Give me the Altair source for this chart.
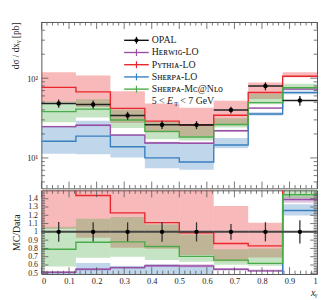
import altair as alt
import pandas as pd

# ---------------- data ----------------
bin_lo = [0.0, 0.125, 0.25, 0.375, 0.5, 0.625, 0.75, 0.875]
bin_hi = [0.125, 0.25, 0.375, 0.5, 0.625, 0.75, 0.875, 1.0]

opal = [48.2, 46.9, 34.0, 26.1, 26.0, 39.9, 79.7, 52.5]
opal_err = [5.7, 5.5, 3.9, 3.1, 3.0, 3.8, 9.2, 7.4]

herwig = [24.7, 25.7, 19.3, 15.4, 15.3, 21.9, 42.2, 73.0]
herwig_lo = [24.0, 25.0, 18.8, 15.0, 14.9, 21.3, 41.0, 71.0]
herwig_hi = [25.4, 26.4, 19.8, 15.9, 15.8, 22.5, 43.4, 75.0]

pythia = [76.8, 67.5, 41.8, 29.0, 25.7, 34.3, 66.2, 106.0]
pythia_lo = [50.0, 43.6, 27.5, 20.8, 18.7, 25.7, 55.0, 103.0]
pythia_hi = [118.6, 108.0, 68.5, 48.2, 42.6, 52.3, 88.5, 118.6]

sherpa = [16.2, 18.8, 13.8, 10.0, 8.9, 14.5, 35.6, 66.0]
sherpa_lo = [11.3, 11.1, 10.1, 7.4, 7.1, 13.2, 34.0, 62.8]
sherpa_hi = [24.8, 29.3, 20.0, 15.8, 15.0, 17.8, 37.5, 70.0]

mcnlo = [38.1, 41.0, 29.9, 21.5, 18.3, 26.3, 49.4, 76.0]
mcnlo_lo = [28.0, 32.2, 23.8, 17.2, 16.6, 24.0, 47.0, 73.8]
mcnlo_hi = [51.1, 54.3, 40.1, 28.4, 25.2, 31.5, 63.8, 85.2]

model_names = ["Herwig-LO", "Pythia-LO", "Sherpa-LO", "Sherpa-MC@NLO"]
legend_labels = ["OPAL", "H\u1d07\u0280\u1d21\u026a\u0262-LO", "P\u028f\u1d1b\u029c\u026a\u1d00-LO",
                 "S\u029c\u1d07\u0280\u1d18\u1d00-LO", "S\u029c\u1d07\u0280\u1d18\u1d00-M\u1d04@N\u029f\u1d0f"]
model_colors = ["#9a4fa6", "#e8262b", "#3a7fc0", "#4aac48"]

# ---------------- tables ----------------
series = {
    "Herwig-LO": (herwig, herwig_lo, herwig_hi),
    "Pythia-LO": (pythia, pythia_lo, pythia_hi),
    "Sherpa-LO": (sherpa, sherpa_lo, sherpa_hi),
    "Sherpa-MC@NLO": (mcnlo, mcnlo_lo, mcnlo_hi),
}
rows, steps = [], []
for name in model_names:
    v, lo, hi = series[name]
    for i in range(len(bin_lo)):
        rows.append(dict(model=name, lo=bin_lo[i], hi=bin_hi[i], val=v[i], blo=lo[i], bhi=hi[i],
                         r=v[i] / opal[i], rlo=lo[i] / opal[i], rhi=hi[i] / opal[i]))
    xs_ = bin_lo + [bin_hi[-1]]
    vs_ = v + [v[-1]]
    for x, y, d in zip(xs_, vs_, opal + [opal[-1]]):
        steps.append(dict(model=name, x=x, y=y, r=y / d))
mdf = pd.DataFrame(rows)
sdf = pd.DataFrame(steps)
ddf = pd.DataFrame(dict(lo=bin_lo, hi=bin_hi, val=opal,
                        c=[(a + b) / 2 for a, b in zip(bin_lo, bin_hi)],
                        elo=[v - e for v, e in zip(opal, opal_err)],
                        ehi=[v + e for v, e in zip(opal, opal_err)],
                        one=[1.0] * 8,
                        rlo=[1 - e / v for v, e in zip(opal, opal_err)],
                        rhi=[1 + e / v for v, e in zip(opal, opal_err)]))

# ---------------- style ----------------
W, H1, H2 = 280, 169, 85
FONT = "Liberation Serif, DejaVu Serif"
TC = "#555555"
xs = alt.Scale(domain=[0, 1], nice=False, zero=False)
ys_up = alt.Scale(type="log", domain=[4.14, 506], nice=False)
ys_lo = alt.Scale(domain=[0.49, 1.5], nice=False, zero=False)
cs = alt.Scale(domain=model_names, range=model_colors)

ax_x_up = alt.Axis(labels=False, ticks=False, domain=False, title=None, grid=False)
ax_y_up = alt.Axis(values=[10, 100], labelExpr="datum.value >= 100 ? '10\u00b2' : '10\u00b9'",
                   ticks=False, domain=False, grid=False, title="d\u03c3 / dx\u1d67 [pb]",
                   titleAnchor="end", labelFontSize=8.5, titleFontSize=9.5, titleFontWeight="normal",
                   labelFont=FONT, titleFont=FONT, labelPadding=4, titlePadding=6, labelColor="#222",
                   titleColor="#222", labelOverlap=False)
ax_x_lo = alt.Axis(values=[round(0.1 * i, 1) for i in range(11)], format="~g", ticks=False, domain=False,
                   grid=False, title="x\u1d67", titleAnchor="end", titleFontStyle="italic",
                   titleFontWeight="normal", titleFont=FONT, labelFont=FONT, labelFontSize=8.5,
                   titleFontSize=10, labelPadding=3, titlePadding=2, labelColor="#222", titleColor="#222",
                   labelOverlap=False)
ax_y_lo = alt.Axis(values=[round(0.5 + 0.1 * i, 1) for i in range(10)], format="~g", ticks=False,
                   domain=False, grid=False, title="MC/Data", titleFontWeight="normal", titleFont=FONT,
                   labelFont=FONT, labelFontSize=8, titleFontSize=10, labelPadding=4, titlePadding=6,
                   labelColor="#222", titleColor="#222", labelOverlap=False, labelBound=False)


def tick_layers(xmaj, xmin, ymaj, ymin, yscale, xaxis, yaxis, H):
    out = []
    for vals, L in ((xmaj, 7), (xmin, 3.5)):
        d = pd.DataFrame({"v": vals})
        for y0, y1 in ((0, L), (H, H - L)):
            out.append(alt.Chart(d).mark_rule(color=TC, strokeWidth=0.8).encode(
                x=alt.X("v:Q", scale=xs, axis=xaxis), y=alt.value(y0), y2=alt.value(y1)))
    for vals, L in ((ymaj, 7), (ymin, 3.5)):
        d = pd.DataFrame({"v": vals})
        for x0, x1 in ((0, L), (W, W - L)):
            out.append(alt.Chart(d).mark_rule(color=TC, strokeWidth=0.8).encode(
                y=alt.Y("v:Q", scale=yscale, axis=yaxis), x=alt.value(x0), x2=alt.value(x1)))
    return out


xmaj = [round(0.1 * i, 2) for i in range(11)]
xmin = [round(0.02 * i, 2) for i in range(51) if i % 5]

# ---------------- upper panel ----------------
bands_u = alt.Chart(mdf).mark_rect(opacity=0.32, clip=True).encode(
    x=alt.X("lo:Q", scale=xs, axis=ax_x_up), x2="hi:Q",
    y=alt.Y("blo:Q", scale=ys_up, axis=ax_y_up), y2="bhi:Q",
    color=alt.Color("model:N", scale=cs, legend=None))
lines_u = alt.Chart(sdf).mark_line(interpolate="step-after", strokeWidth=1.4, clip=True).encode(
    x=alt.X("x:Q", scale=xs, axis=ax_x_up), y=alt.Y("y:Q", scale=ys_up, axis=ax_y_up),
    color=alt.Color("model:N", scale=cs, legend=None), detail="model:N")
dh_u = alt.Chart(ddf).mark_rule(color="#222", strokeWidth=1.6).encode(
    x=alt.X("lo:Q", scale=xs, axis=ax_x_up), x2="hi:Q", y=alt.Y("val:Q", scale=ys_up, axis=ax_y_up))
dv_u = alt.Chart(ddf).mark_rule(color="#222", strokeWidth=1.3).encode(
    x=alt.X("c:Q", scale=xs, axis=ax_x_up), y=alt.Y("elo:Q", scale=ys_up, axis=ax_y_up), y2="ehi:Q")
dp_u = alt.Chart(ddf).mark_circle(color="#000", size=20, opacity=1).encode(
    x=alt.X("c:Q", scale=xs, axis=ax_x_up), y=alt.Y("val:Q", scale=ys_up, axis=ax_y_up))

ymaj_u = [10, 100]
ymin_u = [m * 10 ** e for e in (0, 1, 2) for m in range(2, 10) if 4.14 <= m * 10 ** e <= 506]

# legend
one = pd.DataFrame({"a": [0]})
leg = []
LX0, LX1, LXT, LY0, LDY = 84, 109, 112, 18.5, 12.4
leg_colors = ["#111111"] + model_colors
for i, (lab, col) in enumerate(zip(legend_labels, leg_colors)):
    yy = LY0 + i * LDY
    leg.append(alt.Chart(one).mark_rule(color=col, strokeWidth=1.4).encode(
        x=alt.value(LX0), x2=alt.value(LX1), y=alt.value(yy)))
    leg.append(alt.Chart(one).mark_rule(color=col, strokeWidth=1.2).encode(
        x=alt.value((LX0 + LX1) / 2), y=alt.value(yy - 3.5), y2=alt.value(yy + 3.5)))
    if i == 0:
        leg.append(alt.Chart(one).mark_circle(color="#000", size=18, opacity=1).encode(
            x=alt.value((LX0 + LX1) / 2), y=alt.value(yy)))
    leg.append(alt.Chart(one).mark_text(text=lab, align="left", baseline="middle", font=FONT,
                                        fontSize=10, color="#222").encode(
        x=alt.value(LXT), y=alt.value(yy)))
yy = LY0 + 5 * LDY
for txt, dx, dy, fs, st in (("5 <", 0, 0, 10, "normal"), ("E", 15.5, 0, 10, "italic"),
                            ("T", 22.5, 2.5, 7, "normal"), ("< 7 GeV", 29, 0, 10, "normal")):
    leg.append(alt.Chart(one).mark_text(text=txt, align="left", baseline="middle", font=FONT,
                                        fontSize=fs, fontStyle=st, color="#222").encode(
        x=alt.value(LXT + dx), y=alt.value(yy + dy)))

upper = alt.layer(bands_u, lines_u, dh_u, dv_u, dp_u,
                  *tick_layers(xmaj, xmin, ymaj_u, ymin_u, ys_up, ax_x_up, ax_y_up, H1),
                  *leg).properties(width=W, height=H1)

# ---------------- lower panel ----------------
bands_l = alt.Chart(mdf).mark_rect(opacity=0.32, clip=True).encode(
    x=alt.X("lo:Q", scale=xs, axis=ax_x_lo), x2="hi:Q",
    y=alt.Y("rlo:Q", scale=ys_lo, axis=ax_y_lo), y2="rhi:Q",
    color=alt.Color("model:N", scale=cs, legend=None))
lines_l = alt.Chart(sdf).mark_line(interpolate="step-after", strokeWidth=1.4, clip=True).encode(
    x=alt.X("x:Q", scale=xs, axis=ax_x_lo), y=alt.Y("r:Q", scale=ys_lo, axis=ax_y_lo),
    color=alt.Color("model:N", scale=cs, legend=None), detail="model:N")
dh_l = alt.Chart(ddf).mark_rule(color="#444", strokeWidth=2).encode(
    x=alt.X("lo:Q", scale=xs, axis=ax_x_lo), x2="hi:Q", y=alt.Y("one:Q", scale=ys_lo, axis=ax_y_lo))
dv_l = alt.Chart(ddf).mark_rule(color="#333", strokeWidth=1.3).encode(
    x=alt.X("c:Q", scale=xs, axis=ax_x_lo), y=alt.Y("rlo:Q", scale=ys_lo, axis=ax_y_lo), y2="rhi:Q")
dp_l = alt.Chart(ddf).mark_circle(color="#000", size=20, opacity=1).encode(
    x=alt.X("c:Q", scale=xs, axis=ax_x_lo), y=alt.Y("one:Q", scale=ys_lo, axis=ax_y_lo))

ymaj_l = [round(0.5 + 0.1 * i, 2) for i in range(10)]
ymin_l = [round(0.5 + 0.02 * i, 2) for i in range(50) if i % 5]

lower = alt.layer(bands_l, lines_l, dh_l, dv_l, dp_l,
                  *tick_layers(xmaj, xmin, ymaj_l, ymin_l, ys_lo, ax_x_lo, ax_y_lo, H2)
                  ).properties(width=W, height=H2)

chart = alt.vconcat(upper, lower, spacing=0).properties(
    padding={"left": 2, "top": 11, "right": 5, "bottom": 0}
).configure_view(stroke="#444444", strokeWidth=0.9).configure_concat(spacing=0)

chart.save("out.html", embed_options={"renderer": "svg", "actions": False})
